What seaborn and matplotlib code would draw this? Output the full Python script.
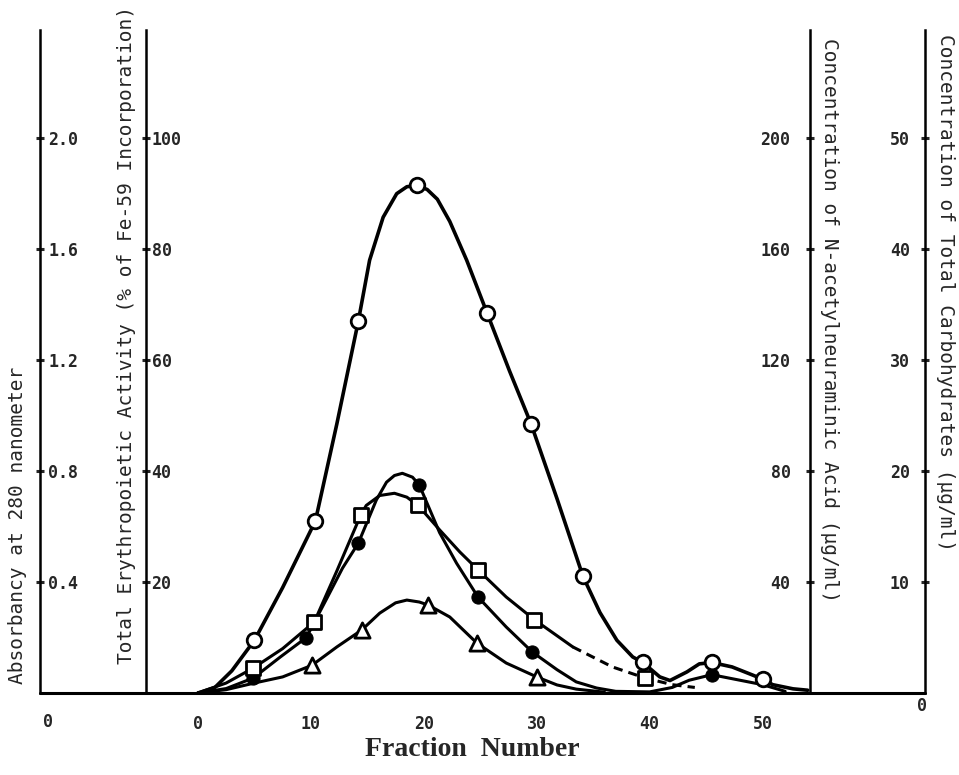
import matplotlib
matplotlib.use("Agg")
import matplotlib.pyplot as plt
import seaborn as sns

# ---------------------------------------------------------------------------
# Data read off the chromatogram (fraction number vs. each measurement)
# ---------------------------------------------------------------------------

# Absorbancy at 280 nm (open circles)
abs_pts_x = [5, 10.4, 14.2, 19.4, 25.6, 29.5, 34.1, 39.4, 45.5, 50]
abs_pts_y = [0.19, 0.62, 1.34, 1.83, 1.37, 0.97, 0.42, 0.11, 0.11, 0.05]
abs_line_x = [0, 1.5, 3, 5, 7.5, 10.4, 12.3, 14.2, 15.2, 16.4, 17.6, 18.5, 19.4,
              20.3, 21.2, 22.3, 23.8, 25.6, 27.6, 29.5, 31.8, 34.1, 35.6, 37.1,
              38.5, 39.4, 40.9, 41.8, 43.3, 44.4, 45.5, 47.3, 49.1, 50, 50.9,
              52.7, 54]
abs_line_y = [0, 0.02, 0.08, 0.19, 0.38, 0.62, 0.97, 1.34, 1.56, 1.715, 1.80,
              1.825, 1.83, 1.815, 1.78, 1.70, 1.56, 1.37, 1.16, 0.97, 0.70,
              0.42, 0.29, 0.19, 0.13, 0.11, 0.058, 0.045, 0.076, 0.105, 0.11,
              0.094, 0.065, 0.05, 0.03, 0.015, 0.01]

# Total erythropoietic activity, % Fe-59 incorporation (filled circles)
epo_pts_x = [4.9, 9.6, 14.2, 19.6, 24.8, 29.6, 45.5]
epo_pts_y = [2.7, 10.0, 27.0, 37.5, 17.3, 7.4, 3.3]
epo_line_x = [0, 2.5, 4.9, 7.3, 9.6, 11.4, 12.8, 14.2, 15.8, 16.7, 17.4, 18.1,
              19.0, 19.6, 21.4, 22.9, 24.8, 27.3, 29.6, 31.8, 33.5, 35.3, 37,
              40, 42, 43.5, 45.5, 47.5, 50, 52]
epo_line_y = [0, 0.8, 2.7, 6.5, 10.0, 17.0, 22.5, 27.0, 34.8, 38.0, 39.2, 39.6,
              38.9, 37.5, 28.9, 23.4, 17.3, 11.9, 7.4, 4.2, 2.0, 0.9, 0.3, 0.2,
              1.0, 2.3, 3.3, 2.5, 1.5, 0.3]

# Total carbohydrates, ug/ml (open squares)
carb_pts_x = [4.9, 10.3, 14.4, 19.5, 24.8, 29.8, 39.6]
carb_pts_y = [2.25, 6.4, 16.0, 16.9, 11.1, 6.6, 1.35]
carb_line_x = [0, 2.5, 4.9, 7.5, 10.3, 12.3, 14.4, 14.9, 16.1, 17.4, 18.5, 19.5,
               21.4, 23.2, 24.8, 27.3, 29.8, 33.2]
carb_line_y = [0, 0.9, 2.25, 4.0, 6.4, 11.0, 16.0, 16.9, 17.8, 18.0, 17.65,
               16.9, 14.7, 12.7, 11.1, 8.65, 6.6, 4.15]
carb_dash_x = [33.2, 36.7, 39.6, 42, 44]
carb_dash_y = [4.15, 2.35, 1.35, 0.75, 0.5]

# N-acetylneuraminic acid, ug/ml (open triangles)
nana_pts_x = [10.1, 14.5, 20.4, 24.7, 30]
nana_pts_y = [10, 22.7, 31.7, 18, 5.8]
nana_line_x = [0, 2.5, 5, 7.5, 10.1, 12.3, 14.5, 16.1, 17.5, 18.5, 19.6, 20.4,
               22.3, 24.7, 27.3, 30, 31.8, 33.5, 36]
nana_line_y = [0, 1.2, 3.6, 5.8, 10, 16.6, 22.7, 28.8, 32.5, 33.5, 32.8, 31.7,
               27.4, 18, 10.8, 5.8, 2.9, 1.4, 0.3]

x_ticks = [0, 10, 20, 30, 40, 50]
abs_ticks = [0.4, 0.8, 1.2, 1.6, 2.0]
epo_ticks = [20, 40, 60, 80, 100]
nana_ticks = [40, 80, 120, 160, 200]
carb_ticks = [10, 20, 30, 40, 50]

# ---------------------------------------------------------------------------
# Figure layout
# ---------------------------------------------------------------------------
sns.set_style("white")
plt.rcParams["font.family"] = ["DejaVu Sans Mono", "DejaVu Sans"]
plt.rcParams["lines.solid_joinstyle"] = "round"
plt.rcParams["lines.dash_joinstyle"] = "round"

W, H = 959, 775
fig = plt.figure(figsize=(W / 100, H / 100), dpi=100)

left_px, right_px, top_px, base_px = 146, 810, 30, 693
ax = fig.add_axes([left_px / W, 1 - base_px / H,
                   (right_px - left_px) / W, (base_px - top_px) / H])

ABS_TOP = 2.39
ax.set_xlim(-4.6, 54.2)
ax.set_ylim(0, ABS_TOP * 50)

ax_nana = ax.twinx()
ax_nana.set_ylim(0, ABS_TOP * 100)
ax_abs = ax.twinx()
ax_abs.set_ylim(0, ABS_TOP)
ax_carb = ax.twinx()
ax_carb.set_ylim(0, ABS_TOP * 25)

outer_left = (40 - left_px) / (right_px - left_px)
outer_right = (925 - left_px) / (right_px - left_px)

SPINE_W = 1.8
for a in (ax, ax_nana, ax_abs, ax_carb):
    for s in a.spines.values():
        s.set_visible(False)
        s.set_linewidth(SPINE_W)
        s.set_color("black")

ax.spines["left"].set_visible(True)
ax_nana.spines["right"].set_visible(True)
ax_abs.spines["left"].set_visible(True)
ax_abs.spines["left"].set_position(("axes", outer_left))
ax_abs.yaxis.tick_left()
ax_carb.spines["right"].set_visible(True)
ax_carb.spines["right"].set_position(("axes", outer_right))

# common baseline running under all four axes
ax.axhline(0, xmin=outer_left, xmax=outer_right, color="black",
           linewidth=SPINE_W + 0.4, clip_on=False, zorder=5)

tick_font = dict(fontsize=12, fontweight="bold")

def style_y(a, ticks, labels, side, pad):
    a.set_yticks(ticks)
    a.set_yticklabels(labels, **tick_font)
    a.tick_params(axis="y", direction="inout", length=6, width=2.2, pad=pad,
                  left=(side == "left"), right=(side == "right"),
                  labelleft=(side == "left"), labelright=(side == "right"))
    for lbl in a.get_yticklabels():
        lbl.set_horizontalalignment("left" if side == "left" else "right")

style_y(ax_abs, abs_ticks, [f"{t:.1f}" for t in abs_ticks], "left", -9)
style_y(ax, epo_ticks, [str(t) for t in epo_ticks], "left", -7)
style_y(ax_nana, nana_ticks, [str(t) for t in nana_ticks], "right", -17)
style_y(ax_carb, carb_ticks, [str(t) for t in carb_ticks], "right", -14)

ax.set_xticks(x_ticks)
ax.set_xticklabels([str(t) for t in x_ticks], **tick_font)
ax.tick_params(axis="x", direction="inout", length=5, width=2, pad=13)
for a in (ax_nana, ax_abs, ax_carb):
    a.tick_params(axis="x", bottom=False, labelbottom=False)

# ---------------------------------------------------------------------------
# Curves and data points
# ---------------------------------------------------------------------------
LW = 2.2
sns.lineplot(x=abs_line_x, y=abs_line_y, ax=ax_abs, color="black",
             linewidth=LW + 0.4, sort=False, estimator=None)
sns.lineplot(x=epo_line_x, y=epo_line_y, ax=ax, color="black",
             linewidth=LW, sort=False, estimator=None)
sns.lineplot(x=carb_line_x, y=carb_line_y, ax=ax_carb, color="black",
             linewidth=LW, sort=False, estimator=None)
sns.lineplot(x=carb_dash_x, y=carb_dash_y, ax=ax_carb, color="black",
             linewidth=LW, linestyle=(0, (3, 2)), sort=False, estimator=None)
sns.lineplot(x=nana_line_x, y=nana_line_y, ax=ax_nana, color="black",
             linewidth=LW, sort=False, estimator=None)

open_kw = dict(color="white", edgecolor="black", linewidth=2, zorder=4)
sns.scatterplot(x=abs_pts_x, y=abs_pts_y, ax=ax_abs, marker="o", s=110, **open_kw)
sns.scatterplot(x=carb_pts_x, y=carb_pts_y, ax=ax_carb, marker="s", s=100, **open_kw)
sns.scatterplot(x=nana_pts_x, y=nana_pts_y, ax=ax_nana, marker="^", s=120, **open_kw)
sns.scatterplot(x=epo_pts_x, y=epo_pts_y, ax=ax, marker="o", s=90,
                color="black", edgecolor="black", zorder=4)

for a in (ax, ax_nana, ax_abs, ax_carb):
    a.set_xlim(-4.6, 54.2)
    a.set_xlabel("")
    a.set_ylabel("")
    a.grid(False)

# ---------------------------------------------------------------------------
# Axis titles and the stray zero labels
# ---------------------------------------------------------------------------
lab_kw = dict(fontsize=14, ha="center", va="center")
fig.text(18 / W, 1 - 525 / H, "Absorbancy at 280 nanometer", rotation=90, **lab_kw)
fig.text(127 / W, 1 - 335 / H,
         "Total Erythropoietic Activity (% of Fe-59 Incorporation)",
         rotation=90, **lab_kw)
fig.text(830 / W, 1 - 320 / H,
         "Concentration of N-acetylneuraminic Acid (\u00b5g/ml)",
         rotation=270, **lab_kw)
fig.text(945 / W, 1 - 292 / H,
         "Concentration of Total Carbohydrates (\u00b5g/ml)",
         rotation=270, **lab_kw)
fig.text(472 / W, 1 - 749 / H, "Fraction  Number", fontsize=20,
         fontweight="bold", family="Liberation Serif", ha="center", va="center")
fig.text(48 / W, 1 - 722 / H, "0", ha="center", va="center", **tick_font)
fig.text(922 / W, 1 - 706 / H, "0", ha="center", va="center", **tick_font)

fig.savefig("out.png", dpi=100)
plt.close(fig)
